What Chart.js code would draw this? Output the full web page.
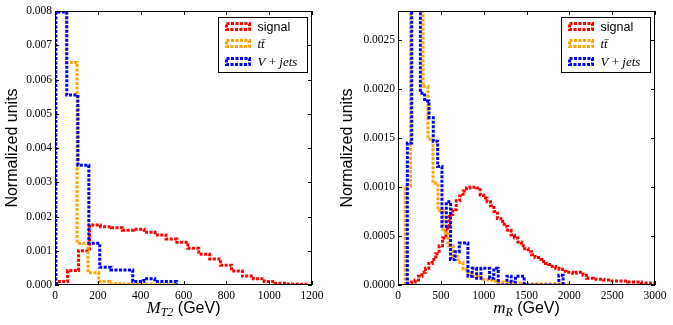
<!DOCTYPE html>
<html>
<head>
<meta charset="utf-8">
<title>MT2 and mR distributions</title>
<script src="https://cdn.jsdelivr.net/npm/chart.js@4.4.1/dist/chart.umd.min.js"></script>
<style>
  html, body { margin: 0; padding: 0; background: #fff; }
  #wrap { position: relative; width: 673px; height: 325px; }
  canvas { position: absolute; top: 0; }
  #mt2 { left: 0; }
  #mr { left: 336px; }
</style>
</head>
<body>
<div id="wrap">
  <canvas id="mt2" width="336" height="325"></canvas>
  <canvas id="mr" width="337" height="325"></canvas>
</div>
<script>
// Histogram bin edges (GeV) and normalized contents.
const mt2SignalEdges = [8, 59, 110, 161, 212, 263, 314, 365, 416, 467, 518, 569, 620, 671, 722, 773, 824, 875, 926, 977, 1028, 1079, 1130, 1181];
const mt2SignalValues = [0.0001, 0.00042, 0.001, 0.00175, 0.0017, 0.00167, 0.0016, 0.00163, 0.00154, 0.00146, 0.00134, 0.00125, 0.00107, 0.0009, 0.00076, 0.00058, 0.00041, 0.00026, 0.00018, 0.0001, 0.00005, 0.00003, 0.00002];

const mt2TtbarEdges = [2, 53, 103, 154, 204, 255, 305, 356, 406, 457, 507, 558];
const mt2TtbarValues = [0.0125, 0.0065, 0.00122, 0.00036, 0.0001, 0.00004, 0.00003, 0.00002, 0.00002, 0.00001, 0.00001];

const mt2VjetsEdges = [4, 55, 107, 158, 209, 261, 312, 363, 414, 466, 517, 568];
const mt2VjetsValues = [0.00797, 0.00555, 0.0035, 0.00122, 0.00052, 0.00044, 0.00044, 0.0001, 0.00018, 0.0001, 0.0001];

const mrSignalEdges = [120, 160, 200, 240, 280, 320, 360, 400, 440, 480, 520, 560, 600, 640, 680, 720, 760, 800, 840, 880, 920, 960, 1000, 1040, 1080, 1120, 1160, 1200, 1240, 1280, 1320, 1360, 1400, 1440, 1480, 1520, 1560, 1600, 1640, 1680, 1720, 1760, 1800, 1840, 1880, 1920, 1960, 2000, 2040, 2080, 2120, 2160, 2200, 2240, 2280, 2320, 2360, 2400, 2440, 2480, 2520, 2560, 2600, 2640, 2680, 2720, 2760, 2800, 2840, 2880, 2920, 2960, 3000];
const mrSignalValues = [0.00002, 0.00003, 0.00005, 0.00009, 0.00013, 0.00017, 0.00022, 0.00026, 0.00032, 0.0004, 0.00048, 0.00058, 0.00072, 0.00077, 0.00086, 0.00091, 0.00096, 0.00099, 0.001, 0.001, 0.00099, 0.00092, 0.00089, 0.00085, 0.00081, 0.00075, 0.00068, 0.00065, 0.0006, 0.00056, 0.00051, 0.00048, 0.00044, 0.0004, 0.00037, 0.00034, 0.00031, 0.00028, 0.00026, 0.00024, 0.00022, 0.00021, 0.00019, 0.00017, 0.00016, 0.00014, 0.00013, 0.00013, 0.00012, 0.00013, 0.00013, 0.0001, 0.00007, 0.00007, 0.00006, 0.00006, 0.00006, 0.00005, 0.00005, 0.00004, 0.00004, 0.00004, 0.00004, 0.00004, 0.00003, 0.00003, 0.00003, 0.00003, 0.00002, 0.00002, 0.00002, 0.00002];

const mrTtbarEdges = [84, 146, 292, 350, 409, 467, 526, 584, 643, 701, 760, 818, 877, 935, 994, 1052, 1111, 1169, 1228, 1286, 1345, 1403, 1462, 1520, 1579, 1637, 1696, 1754, 1813, 1871, 1930, 1988];
const mrTtbarValues = [0.00101, 0.0055, 0.00203, 0.00149, 0.00104, 0.00076, 0.00054, 0.0004, 0.00029, 0.00023, 0.00016, 0.00012, 0.00009, 0.00008, 0.00006, 0.00005, 0.00004, 0.00003, 0.00003, 0.00002, 0.00002, 0.00002, 0.00001, 0.00001, 0.00001, 0.00001, 0.00001, 0.00001, 0.00001, 0.00001, 0.00001];

const mrVjetsEdges = [109, 160, 210, 261, 311, 362, 412, 463, 513, 564, 614, 665, 715, 766, 816, 867, 917, 968, 1018, 1069, 1119, 1170, 1220, 1271, 1321, 1372, 1422, 1473, 1523, 1574, 1624, 1675, 1725, 1776, 1826, 1877, 1927];
const mrVjetsValues = [0.00145, 0.0045, 0.0035, 0.00196, 0.00188, 0.00171, 0.00147, 0.00121, 0.0006, 0.00085, 0.00026, 0.00034, 0.00043, 0.00043, 0.00009, 0.00017, 0.00007, 0.00017, 0.00017, 0.00007, 0.00017, 0, 0, 0.00009, 0.00003, 0.00009, 0.00009, 0, 0, 0, 0, 0, 0, 0, 0, 0.0001];

const colors = { signal: '#ff0000', ttbar: '#ffa500', vjets: '#0000ff' };
const SERIF = '"Liberation Serif", "DejaVu Serif", serif';
const SANS = '"Liberation Sans", Arial, sans-serif';

// Outline of a step histogram: up at the first edge, across each bin, down at the last edge.
function stepPoints(edges, values) {
  const pts = [{ x: edges[0], y: 0 }];
  values.forEach((v, i) => pts.push({ x: edges[i], y: v }));
  pts.push({ x: edges[edges.length - 1], y: 0 });
  return pts;
}

function histDataset(label, color, edges, values, order) {
  return {
    label,
    data: stepPoints(edges, values),
    borderColor: color,
    borderWidth: 3,
    borderDash: [3, 1.5],
    borderCapStyle: 'butt',
    borderJoinStyle: 'miter',
    stepped: true,
    pointRadius: 0,
    fill: false,
    order
  };
}

function drawParts(ctx, parts, x, y) {
  let cx = x;
  parts.forEach((p) => {
    ctx.font = p.font;
    ctx.fillText(p.text, cx, y + (p.dy || 0));
    cx += ctx.measureText(p.text).width;
  });
}

function partsWidth(ctx, parts) {
  return parts.reduce((w, p) => {
    ctx.font = p.font;
    return w + ctx.measureText(p.text).width;
  }, 0);
}

// Frame, inward ticks on all four sides, axis titles and the legend box.
const decorPlugin = {
  id: 'decor',
  afterDraw(chart, args, opts) {
    const { ctx, chartArea: a, scales } = chart;
    ctx.save();
    ctx.strokeStyle = '#000';
    ctx.lineWidth = 1;
    ctx.setLineDash([]);

    ctx.beginPath();
    scales.x.ticks.forEach((t) => {
      const px = Math.round(scales.x.getPixelForValue(t.value)) + 0.5;
      ctx.moveTo(px, a.bottom);
      ctx.lineTo(px, a.bottom - 4);
      ctx.moveTo(px, a.top);
      ctx.lineTo(px, a.top + 4);
    });
    scales.y.ticks.forEach((t) => {
      const py = Math.round(scales.y.getPixelForValue(t.value)) + 0.5;
      ctx.moveTo(a.left, py);
      ctx.lineTo(a.left + 4, py);
      ctx.moveTo(a.right, py);
      ctx.lineTo(a.right - 4, py);
    });
    ctx.stroke();
    ctx.strokeRect(a.left + 0.5, a.top + 0.5, a.right - a.left - 1, a.bottom - a.top - 1);

    // y title
    ctx.fillStyle = '#000';
    ctx.save();
    ctx.translate(opts.yTitleX, (a.top + a.bottom) / 2);
    ctx.rotate(-Math.PI / 2);
    ctx.font = '16px ' + SANS;
    ctx.textAlign = 'center';
    ctx.textBaseline = 'middle';
    ctx.fillText('Normalized units', 0, 0);
    ctx.restore();

    // x title
    ctx.textAlign = 'left';
    ctx.textBaseline = 'alphabetic';
    const w = partsWidth(ctx, opts.xTitle);
    drawParts(ctx, opts.xTitle, (a.left + a.right) / 2 - w / 2, 313);

    // legend
    const bw = 89;
    const bh = 55;
    const bx = Math.round(a.right - 5 - bw) + 0.5;
    const by = Math.round(a.top + 6) + 0.5;
    ctx.fillStyle = '#fff';
    ctx.fillRect(bx, by, bw, bh);
    ctx.strokeStyle = '#000';
    ctx.lineWidth = 1;
    ctx.strokeRect(bx, by, bw, bh);
    const rows = [9, 26, 44];
    chart.data.datasets.forEach((ds, i) => {
      const cy = by + rows[i];
      ctx.strokeStyle = ds.borderColor;
      ctx.lineWidth = 3;
      ctx.setLineDash([3, 1.5]);
      ctx.strokeRect(bx + 8, cy - 3, 23, 6);
      ctx.setLineDash([]);
      ctx.fillStyle = '#000';
      drawParts(ctx, opts.legend[i], bx + 39, cy + 4);
    });
    ctx.restore();
  }
};

const legendParts = [
  [{ text: 'signal', font: '12.5px ' + SANS }],
  [{ text: 't\u0074\u0304', font: 'italic 13px ' + SERIF }],
  [
    { text: 'V', font: 'italic 13px ' + SERIF },
    { text: ' + ', font: '13px ' + SERIF },
    { text: 'jets', font: 'italic 13px ' + SERIF }
  ]
];

function makeChart(id, cfg) {
  const ctx = document.getElementById(id).getContext('2d');
  return new Chart(ctx, {
    type: 'line',
    data: {
      datasets: [
        histDataset('signal', colors.signal, cfg.signal[0], cfg.signal[1], 3),
        histDataset('ttbar', colors.ttbar, cfg.ttbar[0], cfg.ttbar[1], 2),
        histDataset('V+jets', colors.vjets, cfg.vjets[0], cfg.vjets[1], 1)
      ]
    },
    options: {
      responsive: false,
      animation: false,
      devicePixelRatio: 1,
      layout: { padding: { top: 11, right: cfg.padRight, left: 0, bottom: 0 } },
      plugins: {
        legend: { display: false },
        tooltip: { enabled: false },
        decor: { yTitleX: cfg.yTitleX, xTitle: cfg.xTitle, legend: legendParts }
      },
      scales: {
        x: {
          type: 'linear',
          min: 0,
          max: cfg.xMax,
          grid: { display: false, drawTicks: false },
          border: { display: false },
          ticks: {
            stepSize: cfg.xStep,
            padding: 4,
            color: '#000',
            maxRotation: 0,
            font: { family: SERIF, size: 11.5 },
            callback: (v) => String(v)
          },
          afterFit: (s) => { s.height = 40; }
        },
        y: {
          min: 0,
          max: cfg.yMax,
          grid: { display: false, drawTicks: false },
          border: { display: false },
          ticks: {
            stepSize: cfg.yStep,
            includeBounds: false,
            padding: 3,
            color: '#000',
            font: { family: SERIF, size: 11.5 },
            callback: (v) => Number(v).toFixed(cfg.yDigits)
          },
          afterFit: (s) => { s.width = cfg.yWidth; }
        }
      }
    },
    plugins: [decorPlugin]
  });
}

makeChart('mt2', {
  signal: [mt2SignalEdges, mt2SignalValues],
  ttbar: [mt2TtbarEdges, mt2TtbarValues],
  vjets: [mt2VjetsEdges, mt2VjetsValues],
  xMax: 1200,
  xStep: 200,
  yMax: 0.008,
  yStep: 0.001,
  yDigits: 3,
  yWidth: 55,
  padRight: 24,
  yTitleX: 13,
  xTitle: [
    { text: 'M', font: 'italic 17px ' + SERIF },
    { text: 'T2', font: 'italic 12px ' + SERIF, dy: 3 },
    { text: ' (GeV)', font: '16px ' + SANS }
  ]
});

makeChart('mr', {
  signal: [mrSignalEdges, mrSignalValues],
  ttbar: [mrTtbarEdges, mrTtbarValues],
  vjets: [mrVjetsEdges, mrVjetsValues],
  xMax: 3000,
  xStep: 500,
  yMax: 0.0028,
  yStep: 0.0005,
  yDigits: 4,
  yWidth: 62,
  padRight: 18,
  yTitleX: 12,
  xTitle: [
    { text: 'm', font: 'italic 17px ' + SERIF },
    { text: 'R', font: 'italic 12px ' + SERIF, dy: 3 },
    { text: ' (GeV)', font: '16px ' + SANS }
  ]
});
</script>
</body>
</html>
